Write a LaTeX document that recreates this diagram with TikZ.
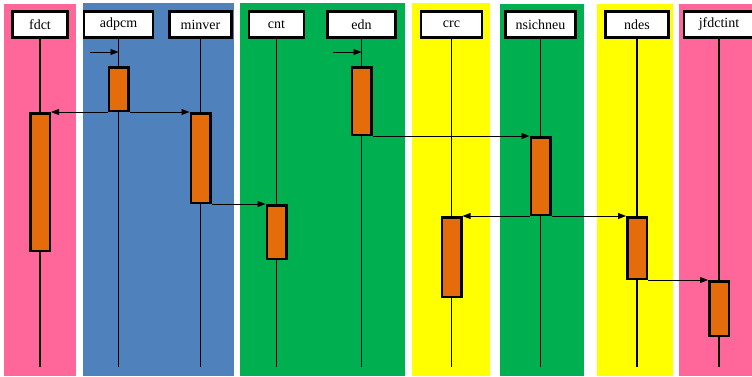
\documentclass[tikz,border=0pt]{standalone}
\usepackage{fontspec}
\setmainfont{Liberation Serif}
\usetikzlibrary{arrows.meta}
\definecolor{lanepink}{HTML}{FF6699}
\definecolor{laneblue}{HTML}{4F81BD}
\definecolor{lanegreen}{HTML}{00B050}
\definecolor{laneyellow}{HTML}{FFFF00}
\definecolor{actorange}{HTML}{E46C0A}
\begin{document}
\begin{tikzpicture}[x=1pt,y=-1pt,
  hdr/.style={draw=black,fill=white,line width=2.5pt,inner sep=0pt,minimum height=26pt,font=\fontsize{14}{16}\selectfont},
  act/.style={draw=black,fill=actorange,line width=2.5pt,inner sep=0pt,minimum width=19.5pt},
  lifeline/.style={line width=1.1pt},
  msg/.style={line width=0.9pt,-{Triangle[length=8pt,width=6pt]}}]
\useasboundingbox[fill=white] (0,0) rectangle (752,376);
% lanes
\fill[lanepink] (4,4) rectangle (76,376);
\fill[laneblue] (83,3) rectangle (234,376);
\fill[lanegreen] (240,3) rectangle (405,376);
\fill[laneyellow] (412,3) rectangle (490,376);
\fill[lanegreen] (500,4) rectangle (584,376);
\fill[laneyellow] (597,4) rectangle (673,376);
\fill[lanepink] (679,4) rectangle (752,376);
% headers
\node[hdr,minimum width=55pt] (fdct) at (40,24.5) {fdct};
\node[hdr,minimum width=69pt] (adpcm) at (118.5,24.5) {adpcm};
\node[hdr,minimum width=62pt] (minver) at (200.5,24.5) {minver};
\node[hdr,minimum width=55pt] (cnt) at (276.5,24.5) {cnt};
\node[hdr,minimum width=68pt] (edn) at (361.5,24.5) {edn};
\node[hdr,minimum width=61pt] (crc) at (451.5,24.5) {crc};
\node[hdr,minimum width=70pt] (nsichneu) at (540.5,24.5) {nsichneu};
\node[hdr,minimum width=63pt] (ndes) at (637,24.5) {ndes};
\node[hdr,minimum width=70pt] (jfdctint) at (719,24.5) {jfdctint};
% lifelines
\foreach \n in {fdct,adpcm,minver,cnt,edn,crc,nsichneu,ndes,jfdctint}{
  \coordinate (\n-end) at (\n.south |- 0,367);
  \draw[lifeline] (\n.south) -- (\n-end);
}
% activations
\node[act,minimum height=43.5pt] (adpcmA) at (adpcm.south |- 0,89) {};
\node[act,minimum height=137.5pt] (fdctA) at (fdct.south |- 0,182) {};
\node[act,minimum height=89.5pt] (minverA) at (minver.south |- 0,158) {};
\node[act,minimum height=53.5pt] (cntA) at (cnt.south |- 0,232) {};
\node[act,minimum height=67.5pt] (ednA) at (edn.south |- 0,101) {};
\node[act,minimum height=77.5pt] (nsA) at (nsichneu.south |- 0,176) {};
\node[act,minimum height=79.5pt] (crcA) at (crc.south |- 0,257) {};
\node[act,minimum height=61.5pt] (ndesA) at (ndes.south |- 0,248) {};
\node[act,minimum height=54.5pt] (jfA) at (jfdctint.south |- 0,308.5) {};
% start messages
\coordinate (s1) at (90,52);
\coordinate (s2) at (333,52);
\draw[msg] (s1) -- (s1 -| adpcm.south);
\draw[msg] (s2) -- (s2 -| edn.south);
% messages
\draw[msg] (adpcmA.south west) -- (fdctA.north east);
\draw[msg] (adpcmA.south east) -- (minverA.north west);
\draw[msg] (minverA.south east) -- (cntA.north west);
\draw[msg] (ednA.south east) -- (nsA.north west);
\draw[msg] (nsA.south west) -- (crcA.north east);
\draw[msg] (nsA.south east) -- (ndesA.north west);
\draw[msg] (ndesA.south east) -- (jfA.north west);
\end{tikzpicture}
\end{document}
